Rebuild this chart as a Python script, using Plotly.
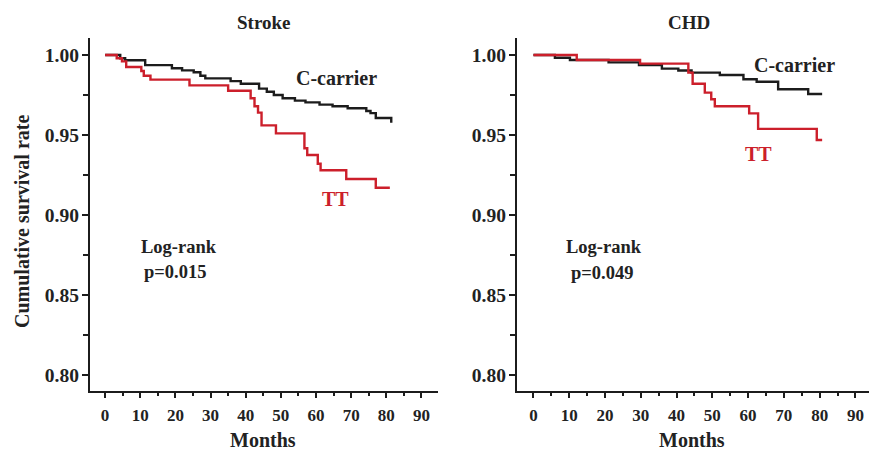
import plotly.graph_objects as go

W, H = 869, 451

# ---- Data ----
stroke_c_t = [0, 4.3, 5.7, 11.4, 19, 21.9, 25.2, 27.1, 28.5, 35.7, 38.6, 43.8, 46, 48, 50.5, 54, 57, 61, 64.7, 69, 74.3, 75.5, 77, 81.4]
stroke_c_s = [1.0, 0.998, 0.9967, 0.9937, 0.9917, 0.9904, 0.9892, 0.987, 0.9854, 0.9837, 0.982, 0.979, 0.977, 0.975, 0.973, 0.9715, 0.9704, 0.969, 0.968, 0.9667, 0.965, 0.9637, 0.9606, 0.9577]

stroke_tt_t = [0, 3.3, 4.8, 6.0, 10.3, 11, 12.9, 24, 35, 41.4, 42.5, 43.5, 44.5, 48.6, 56.7, 57.5, 60.5, 61.3, 68.6, 77, 81.0]
stroke_tt_s = [1.0, 0.998, 0.996, 0.9925, 0.99, 0.987, 0.9846, 0.981, 0.9777, 0.973, 0.968, 0.964, 0.956, 0.951, 0.9417, 0.9375, 0.932, 0.928, 0.9225, 0.917, 0.917]

chd_c_t = [0, 6.0, 10.2, 21, 29.5, 35.9, 40.5, 44.2, 52.1, 58.7, 62.4, 68.4, 76.8, 80.7]
chd_c_s = [1.0, 0.9983, 0.9969, 0.9954, 0.9937, 0.9915, 0.9903, 0.989, 0.9875, 0.9848, 0.9833, 0.9786, 0.9756, 0.9756]

chd_tt_t = [0, 12.1, 29.8, 43.3, 44.5, 47.9, 49.7, 50.7, 60.3, 62.8, 79.2, 80.7]
chd_tt_s = [1.0, 0.9969, 0.9946, 0.989, 0.982, 0.9765, 0.9723, 0.968, 0.9635, 0.9538, 0.9469, 0.9469]

x_ticks = [0, 10, 20, 30, 40, 50, 60, 70, 80, 90]
y_ticks = [0.80, 0.85, 0.90, 0.95, 1.00]
y_tick_labels = ["0.80", "0.85", "0.90", "0.95", "1.00"]

BLACK = "#1c1c1c"
RED = "#cc1f2b"
FONT = "Liberation Serif"

def px_x(p):
    return p / W

def px_y(p):
    return 1 - p / H

fig = go.Figure()

fig.add_trace(go.Scatter(x=stroke_c_t, y=stroke_c_s, mode="lines", line=dict(shape="hv", color=BLACK, width=2.4),
                         xaxis="x", yaxis="y", showlegend=False))
fig.add_trace(go.Scatter(x=stroke_tt_t, y=stroke_tt_s, mode="lines", line=dict(shape="hv", color=RED, width=2.4),
                         xaxis="x", yaxis="y", showlegend=False))
fig.add_trace(go.Scatter(x=chd_c_t, y=chd_c_s, mode="lines", line=dict(shape="hv", color=BLACK, width=2.4),
                         xaxis="x2", yaxis="y2", showlegend=False))
fig.add_trace(go.Scatter(x=chd_tt_t, y=chd_tt_s, mode="lines", line=dict(shape="hv", color=RED, width=2.4),
                         xaxis="x2", yaxis="y2", showlegend=False))

xtickfont = dict(family=FONT, size=17, color="#222222", weight="bold")
ytickfont = dict(family=FONT, size=19.5, color="#222222", weight="bold")

def xaxis_cfg(domain, rng, anchor):
    return dict(domain=domain, range=rng, anchor=anchor, showgrid=False, zeroline=False,
                showline=True, linecolor=BLACK, linewidth=2.4,
                ticks="outside", ticklen=5, tickwidth=2, tickcolor=BLACK,
                tickvals=x_ticks, ticktext=[str(v) for v in x_ticks],
                tickfont=xtickfont, ticklabelstandoff=2,
                minor=dict(ticks="outside", ticklen=3, tickwidth=2, tickcolor=BLACK, dtick=5, tick0=0, showgrid=False))

def yaxis_cfg(domain, rng, anchor):
    return dict(domain=domain, range=rng, anchor=anchor, showgrid=False, zeroline=False,
                showline=True, linecolor=BLACK, linewidth=2.4,
                ticks="outside", ticklen=6, tickwidth=2, tickcolor=BLACK,
                tickvals=y_ticks, ticktext=y_tick_labels,
                tickfont=ytickfont, ticklabelstandoff=-1,
                minor=dict(ticks="outside", ticklen=5, tickwidth=2, tickcolor=BLACK, dtick=0.025, tick0=0.8, showgrid=False))

y_dom = [px_y(391), px_y(38)]
y_rng = [0.80 - (391 - 375) / 1600, 1.00 + (55 - 38) / 1600]

fig.update_layout(
    width=W, height=H,
    margin=dict(l=0, r=0, t=0, b=0),
    paper_bgcolor="white", plot_bgcolor="white",
    xaxis=xaxis_cfg([px_x(90), px_x(438)], [-4.3, 94.7], "y"),
    yaxis=yaxis_cfg(y_dom, y_rng, "x"),
    xaxis2=xaxis_cfg([px_x(517), 1.0], [-4.6, 93.8], "y2"),
    yaxis2=yaxis_cfg(y_dom, y_rng, "x2"),
)

def txt(text, x, y, size=17, color="#222222", xref="paper", yref="paper", angle=0):
    fig.add_annotation(text=f"<b>{text}</b>", x=x, y=y, xref=xref, yref=yref, showarrow=False,
                       font=dict(family=FONT, size=size, color=color), textangle=angle,
                       xanchor="center", yanchor="middle")

# titles
txt("Stroke", px_x(263), px_y(22), size=19)
txt("CHD", px_x(689), px_y(22), size=19)
txt("Months", px_x(263), px_y(440), size=20)
txt("Months", px_x(692), px_y(440), size=20)
txt("Cumulative survival rate", px_x(22), px_y(222), size=20, angle=-90)

# left panel labels
txt("C-carrier", 65.8, 0.9856, size=20, xref="x", yref="y")
txt("TT", 65.5, 0.910, size=20, color=RED, xref="x", yref="y")
txt("Log-rank", 21, 0.880, size=18.5, xref="x", yref="y")
txt("p=0.015", 20, 0.8644, size=18.5, xref="x", yref="y")

# right panel labels
txt("C-carrier", 73.1, 0.99375, size=20, xref="x2", yref="y2")
txt("TT", 62.8, 0.938, size=20, color=RED, xref="x2", yref="y2")
txt("Log-rank", 19.7, 0.880, size=18.5, xref="x2", yref="y2")
txt("p=0.049", 19.2, 0.864, size=18.5, xref="x2", yref="y2")

fig.write_html("out.html")
